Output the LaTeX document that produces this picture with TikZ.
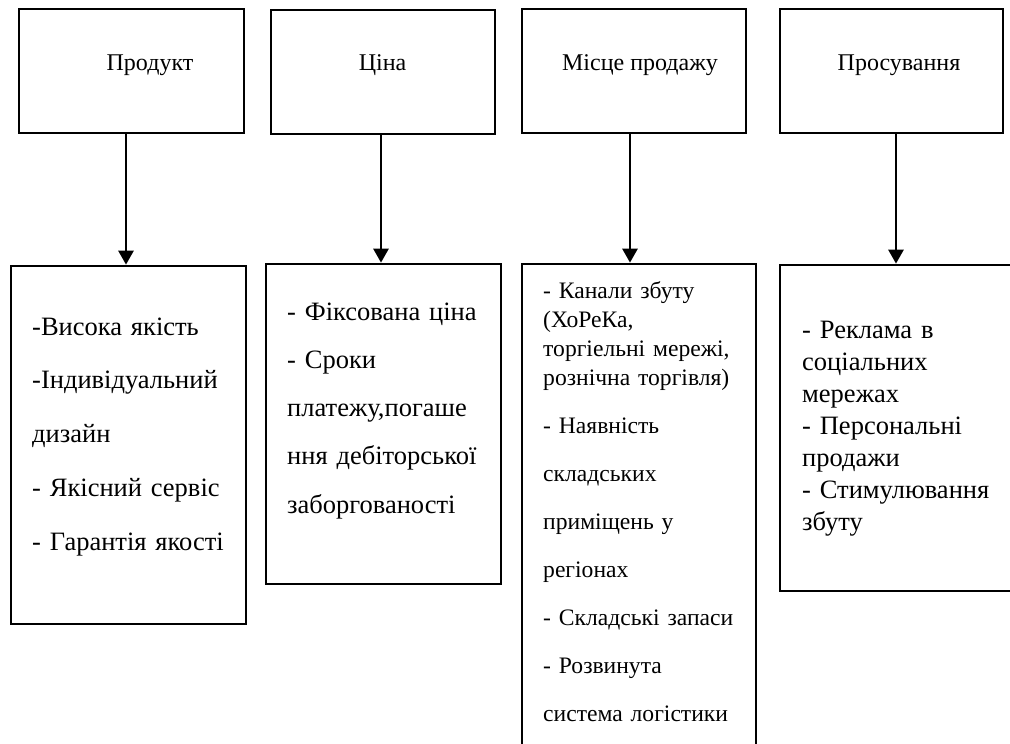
\documentclass[tikz,border=0pt]{standalone}
\usepackage{fontspec}
\setmainfont{Liberation Serif}
\usetikzlibrary{arrows.meta}
\tikzset{
	box/.style={draw, line width=2.7pt, inner sep=0pt},
	arr/.style={line width=2.7pt, -{Triangle[width=15pt,length=14pt]}},
	lbl/.style={font=\fontsize{24}{29}\selectfont, inner sep=0pt, anchor=base},
	lst/.style n args={2}{font=\fontsize{#1}{#2}\selectfont, inner sep=0pt, align=left, text width=228pt, anchor=base west}
}

\begin{document}
\begin{tikzpicture}[x=1pt, y=-1pt]
	%%%%% START %%%%%
	\useasboundingbox (0,0) rectangle (1010,744);
	\clip (0,0) rectangle (1010,744);
	
	% top row
	\node[box, minimum width=225, minimum height=124] (t1) at (131.5,71) {};
	\node[box, minimum width=224, minimum height=124] (t2) at (383,72) {};
	\node[box, minimum width=224, minimum height=124] (t3) at (634,71) {};
	\node[box, minimum width=223, minimum height=124] (t4) at (891.5,71) {};
	
	\node[lbl] (t1txt) at (150,70) {Продукт};
	\node[lbl] (t2txt) at (382.5,70) {Ціна};
	\node[lbl] (t3txt) at (640,70) {Місце продажу};
	\node[lbl] (t4txt) at (899,70) {Просування};
	
	% bottom row
	\node[box, minimum width=235, minimum height=358] (b1) at (128.5,445) {};
	\node[box, minimum width=235, minimum height=320] (b2) at (383.5,424) {};
	\node[box, minimum width=234, minimum height=506] (b3) at (639,517) {};
	\node[box, minimum width=240, minimum height=326] (b4) at (900,428) {};
	
	\node[lst={26.5}{53.75}] (b1txt) at (32,335) {-Висока якість\\-Індивідуальний\\дизайн\\- Якісний сервіс\\- Гарантія якості};
	\node[lst={26.5}{48.25}] (b2txt) at (287,320) {- Фіксована ціна\\- Сроки\\платежу,погаше\\ння дебіторської\\заборгованості};
	\node[lst={23.6}{29}] (b3txt) at (543,298) {- Канали збуту\\(ХоРеКа,\\торгіельні мережі,\\рознічна торгівля)\\[19pt]- Наявність\\[19pt]складських\\[19pt]приміщень у\\[19pt]регіонах\\[19pt]- Складські запаси\\[19pt]- Розвинута\\[19pt]система логістики};
	\node[lst={26.5}{32}] (b4txt) at (802,338) {- Реклама в\\соціальних\\мережах\\- Персональні\\продажи\\- Стимулювання\\збуту};
	
	% arrows
	\draw[arr] ([xshift=-5.5]t1.south) -- ([xshift=-5.5]t1.south |- b1.north);
	\draw[arr] ([xshift=-2]t2.south) -- ([xshift=-2]t2.south |- b2.north);
	\draw[arr] ([xshift=-4]t3.south) -- ([xshift=-4]t3.south |- b3.north);
	\draw[arr] ([xshift=4.5]t4.south) -- ([xshift=4.5]t4.south |- b4.north);
	
	%%%%% END %%%%%
\end{tikzpicture}
\end{document}
